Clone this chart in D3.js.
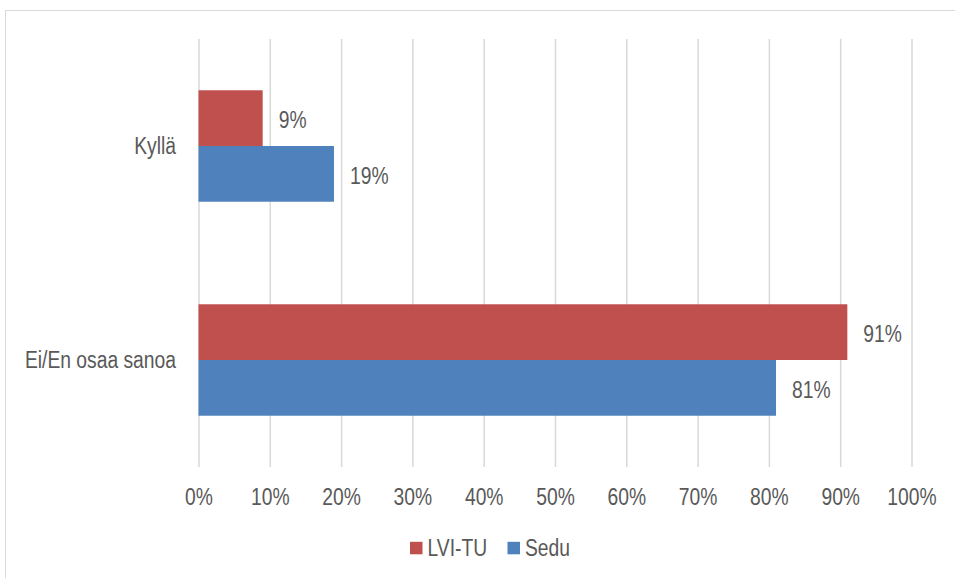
<!DOCTYPE html>
<html>
<head>
<meta charset="utf-8">
<script src="https://cdn.jsdelivr.net/npm/d3@7"></script>
<style>
  html, body { margin: 0; padding: 0; background: #fff; }
  svg { display: block; }
  text { font-family: "Liberation Sans", Arial, sans-serif; fill: #595959; }
</style>
</head>
<body>
<svg id="chart" width="955" height="578"></svg>
<script>
// Survey answers per school, as shares of respondents
const categories = ["Kyllä", "Ei/En osaa sanoa"];
const seriesNames = ["LVI-TU", "Sedu"];
const lviTu = [0.09, 0.91];
const sedu = [0.19, 0.81];
const tickValues = [0, 0.1, 0.2, 0.3, 0.4, 0.5, 0.6, 0.7, 0.8, 0.9, 1.0];
const colors = ["#C0504D", "#4F81BD"];

const series = [lviTu, sedu];
const svg = d3.select("#chart");
const W = 955, H = 578;
const fontSize = 23.5;
const narrow = 0.82; // condensed look, like Arial Narrow

// squeeze a text selection horizontally to a narrow face
function condense(sel) {
  sel.each(function () {
    const w = this.getComputedTextLength();
    d3.select(this).attr("textLength", w * narrow).attr("lengthAdjust", "spacingAndGlyphs");
  });
}

// chart frame
svg.append("rect")
  .attr("x", 5.5).attr("y", 10.5)
  .attr("width", W + 10).attr("height", H + 10)
  .attr("fill", "none").attr("stroke", "#D9D9D9").attr("stroke-width", 1);

const plot = { left: 198.5, right: 911.5, top: 39, bottom: 467 };

const x = d3.scaleLinear().domain([0, 1]).range([plot.left, plot.right]);
const y = d3.scaleBand().domain(categories).range([plot.top, plot.bottom]).paddingInner(0).paddingOuter(0);
const inner = d3.scaleBand().domain(seriesNames).range([0, y.bandwidth()]).paddingInner(0).paddingOuter(0.92);

// vertical gridlines and percentage ticks
const xAxis = d3.axisBottom(x).tickValues(tickValues).tickFormat(d3.format(".0%"))
  .tickSize(-(plot.bottom - plot.top)).tickSizeOuter(0).tickPadding(0);
const gx = svg.append("g").attr("transform", `translate(0,${plot.bottom})`).call(xAxis);
gx.select(".domain").remove();
gx.selectAll(".tick line").attr("stroke", "#D9D9D9").attr("stroke-width", 1.5);
gx.selectAll(".tick text")
  .attr("y", 30).attr("dy", "0.35em")
  .style("font-size", fontSize + "px")
  .style("font-family", "'Liberation Sans', Arial, sans-serif")
  .attr("fill", "#595959")
  .call(condense);

// bars
const groups = svg.append("g").selectAll("g")
  .data(seriesNames.map((name, i) => ({ name, values: series[i], color: colors[i] })))
  .join("g").attr("fill", d => d.color);

groups.selectAll("rect")
  .data(d => d.values.map((v, j) => ({ name: d.name, cat: categories[j], v })))
  .join("rect")
  .attr("x", x(0))
  .attr("y", d => y(d.cat) + inner(d.name))
  .attr("width", d => x(d.v) - x(0))
  .attr("height", inner.bandwidth());

// value labels
groups.selectAll("text")
  .data(d => d.values.map((v, j) => ({ name: d.name, cat: categories[j], v })))
  .join("text")
  .attr("x", d => x(d.v) + 16)
  .attr("y", d => y(d.cat) + inner(d.name) + inner.bandwidth() / 2 + 2)
  .attr("dy", "0.35em")
  .attr("fill", "#595959")
  .style("font-size", fontSize + "px")
  .text(d => d3.format(".0%")(d.v))
  .call(condense);

// category labels
svg.append("g").selectAll("text")
  .data(categories)
  .join("text")
  .attr("x", 176)
  .attr("y", d => y(d) + y.bandwidth() / 2)
  .attr("dy", "0.35em")
  .attr("text-anchor", "end")
  .style("font-size", fontSize + "px")
  .text(d => d)
  .call(condense);

// legend
const legend = svg.append("g");
const legendItems = [{ name: seriesNames[0], color: colors[0], x: 410 }, { name: seriesNames[1], color: colors[1], x: 507.5 }];
legendItems.forEach(it => {
  legend.append("rect").attr("x", it.x).attr("y", 541.8).attr("width", 12.5).attr("height", 12.5).attr("fill", it.color);
  legend.append("text").attr("x", it.x + 17.5).attr("y", 548).attr("dy", "0.35em")
    .style("font-size", fontSize + "px").text(it.name).call(condense);
});
</script>
</body>
</html>
